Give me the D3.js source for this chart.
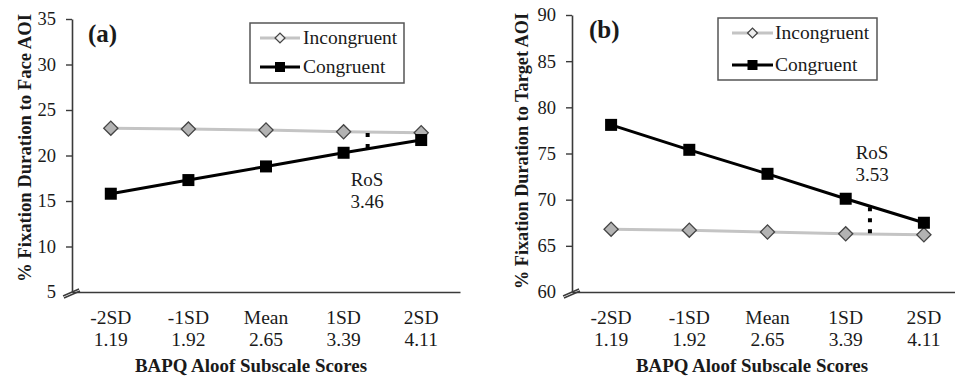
<!DOCTYPE html>
<html>
<head>
<meta charset="utf-8">
<script src="https://cdn.jsdelivr.net/npm/d3@7"></script>
<style>
  html, body { margin: 0; padding: 0; background: #fff; }
  svg { display: block; }
  text { font-family: "Liberation Serif", "Times New Roman", serif; fill: #1a1a1a; }
</style>
</head>
<body>
<svg id="chart" width="955" height="382"></svg>
<script>
// ---- Data ----
const categories = ["-2SD", "-1SD", "Mean", "1SD", "2SD"];
const scoreLabels = ["1.19", "1.92", "2.65", "3.39", "4.11"];
const seriesNames = ["Incongruent", "Congruent"];

const faceIncongruent = [23.0, 22.9, 22.8, 22.6, 22.5];
const faceCongruent   = [15.8, 17.3, 18.8, 20.3, 21.7];
const faceTicks = [5, 10, 15, 20, 25, 30, 35];
const faceRoS = "3.46";

const targetIncongruent = [66.8, 66.7, 66.5, 66.3, 66.2];
const targetCongruent   = [78.1, 75.4, 72.8, 70.1, 67.5];
const targetTicks = [60, 65, 70, 75, 80, 85, 90];
const targetRoS = "3.53";

const rosIndex = 3.31; // position of the region-of-significance marker along the category axis

const xTitle = "BAPQ Aloof Subscale Scores";

const panels = [
  {
    label: "(a)", yTitle: "% Fixation Duration to Face AOI",
    inc: faceIncongruent, con: faceCongruent, ticks: faceTicks, ros: faceRoS,
    left: 72, right: 460, top: 19, bottom: 292,
    legend: { x: 250, y: 23, w: 154, h: 60, r1: 38, r2: 67, lx1: 260, lx2: 300, tx: 303 },
    labelPos: [88, 42], rosText: [367, 186], yTitleX: 24, yTitleY: 148, yTitleLen: 268, xTitleX: 251
  },
  {
    label: "(b)", yTitle: "% Fixation Duration to Target AOI",
    inc: targetIncongruent, con: targetCongruent, ticks: targetTicks, ros: targetRoS,
    left: 572, right: 963, top: 15, bottom: 292,
    legend: { x: 718, y: 18, w: 159, h: 62, r1: 33, r2: 65, lx1: 732, lx2: 773, tx: 775 },
    labelPos: [589, 38], rosText: [872, 159], yTitleX: 521, yTitleY: 151, yTitleLen: 276, xTitleX: 752
  }
];

const svg = d3.select("#chart");
const AX = "#3a3a3a";
const INC_LINE = "#c4c4c4";
const INC_FILL = "#b3b3b3";

panels.forEach(p => {
  const g = svg.append("g");
  const x = d3.scaleBand().domain(d3.range(categories.length)).range([p.left, p.right]).paddingInner(0).paddingOuter(0);
  const xc = i => x(i) + x.bandwidth() / 2;
  const xi = v => p.left + (v + 0.5) * x.bandwidth();
  const y = d3.scaleLinear().domain([p.ticks[0], p.ticks[p.ticks.length - 1]]).range([p.bottom, p.top]);

  // Y axis
  const yAxis = d3.axisLeft(y).tickValues(p.ticks).tickSize(6).tickSizeOuter(0).tickPadding(10);
  const ya = g.append("g").attr("transform", `translate(${p.left},0)`).call(yAxis);
  ya.select(".domain").attr("stroke", AX).attr("stroke-width", 1.6);
  ya.selectAll(".tick line").attr("stroke", AX).attr("stroke-width", 1.4);
  ya.selectAll(".tick text").style("font-size", "18.5px").attr("fill", "#1a1a1a")
    .style("font-family", '"Liberation Serif", serif');
  ya.selectAll(".tick").filter(d => d === p.ticks[0]).select("line").remove();

  // X axis
  const xAxis = d3.axisBottom(x).tickSize(0).tickFormat(() => "");
  const xa = g.append("g").attr("transform", `translate(0,${p.bottom})`).call(xAxis);
  xa.select(".domain").attr("stroke", AX).attr("stroke-width", 1.6);

  // Category labels (two lines)
  g.selectAll(".catlab").data(categories).enter().append("text")
    .attr("text-anchor", "middle").style("font-size", "19.5px")
    .attr("x", (d, i) => xc(i)).attr("y", 324).text(d => d);
  g.selectAll(".scorelab").data(scoreLabels).enter().append("text")
    .attr("text-anchor", "middle").style("font-size", "19.5px")
    .attr("x", (d, i) => xc(i)).attr("y", 346).text(d => d);

  // Axis break marks
  [0, 5].forEach(off => {
    g.append("line")
      .attr("x1", p.left - 9 + off * 0.2).attr("y1", p.bottom + 4 + off * 0.4)
      .attr("x2", p.left + 7 + off * 0.2).attr("y2", p.bottom - 3 + off * 0.4)
      .attr("stroke", AX).attr("stroke-width", 1.4);
  });

  // Titles
  g.append("text").attr("x", p.xTitleX).attr("y", 372).attr("text-anchor", "middle")
    .style("font-size", "18.5px").style("font-weight", "bold")
    .attr("textLength", 232).attr("lengthAdjust", "spacingAndGlyphs").text(xTitle);
  g.append("text").attr("transform", `translate(${p.yTitleX},${p.yTitleY}) rotate(-90)`)
    .attr("text-anchor", "middle").attr("dy", "0.35em")
    .style("font-size", "19px").style("font-weight", "bold")
    .attr("textLength", p.yTitleLen).attr("lengthAdjust", "spacingAndGlyphs").text(p.yTitle);
  g.append("text").attr("x", p.labelPos[0]).attr("y", p.labelPos[1])
    .style("font-size", "25px").style("font-weight", "bold").text(p.label);

  // Lines
  const line = d3.line().x((d, i) => xc(i)).y(d => y(d));
  g.append("path").datum(p.inc).attr("d", line).attr("fill", "none")
    .attr("stroke", INC_LINE).attr("stroke-width", 3);
  g.append("path").datum(p.con).attr("d", line).attr("fill", "none")
    .attr("stroke", "#000").attr("stroke-width", 3);

  // Dotted RoS marker between lines
  const interp = (arr, t) => { const i0 = Math.floor(t); const f = t - i0; return arr[i0] + (arr[i0 + 1] - arr[i0]) * f; };
  const vA = interp(p.inc, rosIndex), vB = interp(p.con, rosIndex);
  const yTop = Math.min(y(vA), y(vB)), yBot = Math.max(y(vA), y(vB));
  g.append("line").attr("x1", xi(rosIndex)).attr("x2", xi(rosIndex))
    .attr("y1", yTop + 1).attr("y2", yBot)
    .attr("stroke", "#000").attr("stroke-width", 4).attr("stroke-dasharray", "4,7");

  // Markers
  g.selectAll(".inc").data(p.inc).enter().append("rect")
    .attr("width", 10).attr("height", 10)
    .attr("transform", (d, i) => `translate(${xc(i)},${y(d)}) rotate(45) translate(-5,-5)`)
    .attr("fill", INC_FILL).attr("stroke", "#444").attr("stroke-width", 1.3);
  g.selectAll(".con").data(p.con).enter().append("rect")
    .attr("x", (d, i) => xc(i) - 6).attr("y", d => y(d) - 6)
    .attr("width", 12).attr("height", 12).attr("fill", "#000");

  // RoS text
  g.append("text").attr("x", p.rosText[0]).attr("y", p.rosText[1]).attr("text-anchor", "middle")
    .style("font-size", "19px").text("RoS");
  g.append("text").attr("x", p.rosText[0]).attr("y", p.rosText[1] + 22).attr("text-anchor", "middle")
    .style("font-size", "19px").text(p.ros);

  // Legend
  const L = p.legend;
  g.append("rect").attr("x", L.x).attr("y", L.y).attr("width", L.w).attr("height", L.h)
    .attr("fill", "#fff").attr("stroke", "#555").attr("stroke-width", 1.5);
  const mid = (L.lx1 + L.lx2) / 2;
  g.append("line").attr("x1", L.lx1).attr("x2", L.lx2).attr("y1", L.r1).attr("y2", L.r1)
    .attr("stroke", INC_LINE).attr("stroke-width", 3);
  g.append("rect").attr("width", 7).attr("height", 7)
    .attr("transform", `translate(${mid},${L.r1}) rotate(45) translate(-3.5,-3.5)`)
    .attr("fill", "#eee").attr("stroke", "#444").attr("stroke-width", 1.3);
  g.append("line").attr("x1", L.lx1).attr("x2", L.lx2).attr("y1", L.r2).attr("y2", L.r2)
    .attr("stroke", "#000").attr("stroke-width", 3);
  g.append("rect").attr("x", mid - 5).attr("y", L.r2 - 5).attr("width", 10).attr("height", 10).attr("fill", "#000");
  g.append("text").attr("x", L.tx).attr("y", L.r1).attr("dy", "0.33em").style("font-size", "19.5px").text(seriesNames[0]);
  g.append("text").attr("x", L.tx).attr("y", L.r2).attr("dy", "0.33em").style("font-size", "19.5px").text(seriesNames[1]);
});
</script>
</body>
</html>
